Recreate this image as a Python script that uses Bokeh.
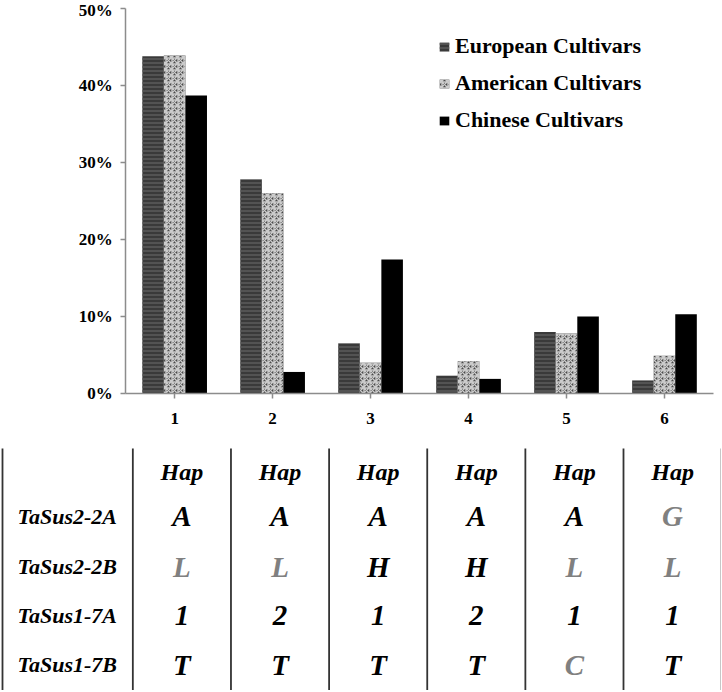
from bokeh.plotting import figure
from bokeh.models import (Range1d, NumeralTickFormatter, FixedTicker, LinearAxis,
                          Legend, LegendItem, ColumnDataSource)
from bokeh.transform import dodge
from bokeh.embed import file_html
from bokeh.resources import INLINE
from bokeh.core.properties import value

# ---------------- data ----------------
haplotypes = ["1", "2", "3", "4", "5", "6"]
european = [0.438, 0.278, 0.065, 0.023, 0.080, 0.017]
american = [0.439, 0.260, 0.040, 0.042, 0.078, 0.049]
chinese = [0.387, 0.028, 0.174, 0.019, 0.100, 0.103]
series_names = ["European Cultivars", "American Cultivars", "Chinese Cultivars"]
y_ticks = [0, 0.1, 0.2, 0.3, 0.4, 0.5]

header_labels = ["Hap", "Hap", "Hap", "Hap", "Hap", "Hap"]
genes = ["TaSus2-2A", "TaSus2-2B", "TaSus1-7A", "TaSus1-7B"]
alleles = [
    ["A", "A", "A", "A", "A", "G"],
    ["L", "L", "H", "H", "L", "L"],
    ["1", "2", "1", "2", "1", "1"],
    ["T", "T", "T", "T", "C", "T"],
]
alt_allele = [
    [0, 0, 0, 0, 0, 1],
    [1, 1, 0, 0, 1, 1],
    [0, 0, 0, 0, 0, 0],
    [0, 0, 0, 0, 1, 0],
]

SERIF = "Liberation Serif"
AXIS_GRAY = "#8c8c8c"
W, H = 721, 690

hap_x = list(range(1, len(haplotypes) + 1))

# one figure: chart on top (primary ranges), table below (extra y range in px)
p = figure(width=W, height=H,
           x_range=Range1d(-0.7777, 6.582),
           y_range=Range1d(-0.3857, 0.5104),
           x_axis_type=None, y_axis_type=None,
           output_backend="svg", toolbar_location=None,
           min_border_left=0, min_border_right=0, min_border_top=0, min_border_bottom=0)
p.outline_line_color = None
p.xgrid.visible = False
p.ygrid.visible = False
p.extra_y_ranges = {"table": Range1d(H, 0)}

# ---------------- bars ----------------
src = ColumnDataSource(dict(x=hap_x, eu=european, am=american, cn=chinese))
bw = 0.22
r_eu = p.vbar(x=dodge("x", -bw), top="eu", width=bw, source=src,
              fill_color="#3a3a3a", line_color=None,
              hatch_pattern="horizontal_line", hatch_color="#5a5a5a",
              hatch_scale=4, hatch_weight=1.5)
r_am = p.vbar(x=dodge("x", 0), top="am", width=bw, source=src,
              fill_color="#4a4a4a", line_color=None,
              hatch_pattern="criss_cross", hatch_color="#cccccc",
              hatch_scale=6, hatch_weight=1.4)
r_cn = p.vbar(x=dodge("x", bw), top="cn", width=bw, source=src,
              fill_color="#000000", line_color=None)

# ---------------- axes ----------------
xaxis = LinearAxis(fixed_location=0, bounds=(0.5, len(haplotypes) + 0.5),
                   ticker=FixedTicker(ticks=hap_x),
                   major_label_overrides={x: h for x, h in zip(hap_x, haplotypes)})
yaxis = LinearAxis(fixed_location=0.5, bounds=(y_ticks[0], y_ticks[-1]),
                   ticker=FixedTicker(ticks=y_ticks),
                   formatter=NumeralTickFormatter(format="0%"))
for ax in (xaxis, yaxis):
    ax.axis_line_color = AXIS_GRAY
    ax.axis_line_width = 1.5
    ax.major_tick_line_color = AXIS_GRAY
    ax.major_tick_line_width = 1.5
    ax.major_tick_in = 0
    ax.major_tick_out = 5
    ax.minor_tick_line_color = None
    ax.major_label_text_font = SERIF
    ax.major_label_text_font_style = "bold"
    ax.major_label_text_font_size = "17px"
    ax.major_label_text_color = "black"
yaxis.major_label_standoff = 8
xaxis.major_label_standoff = 14
p.add_layout(xaxis, "below")
p.add_layout(yaxis, "left")

# ---------------- legend ----------------
legend = Legend(items=[LegendItem(label=n, renderers=[r]) for n, r in
                       zip(series_names, [r_eu, r_am, r_cn])],
                location=(438, 557), orientation="vertical",
                glyph_width=12, glyph_height=11, label_standoff=5,
                spacing=11, padding=0, margin=0,
                border_line_color=None, background_fill_alpha=0,
                label_text_font=SERIF, label_text_font_style="bold",
                label_text_font_size="22px", label_text_color="black")
p.add_layout(legend)

# ---------------- table (y in page px via extra range) ----------------
col_shift = 0.074
col_pitch = 1.0017
cols = [col_shift + 1 + i * col_pitch for i in range(len(haplotypes))]
row_y = [515.5, 566, 614.5, 664]
header_y = 471
line_top, line_bottom = 448, 690
left_border_x = -0.7573
label_x = -0.604

line_x = [left_border_x] + [c - 0.5 * col_pitch for c in cols] + [cols[-1] + 0.5 * col_pitch]
p.segment(x0=line_x, y0=[line_top] * len(line_x), x1=line_x, y1=[line_bottom] * len(line_x),
          line_color="#333333", line_width=1.8, y_range_name="table")

p.text(x=cols, y=[header_y] * len(cols), text=header_labels,
       text_align="center", text_baseline="middle",
       text_font=value(SERIF), text_font_style="bold italic", text_font_size="24px",
       text_color="black", y_range_name="table")

p.text(x=[label_x] * len(genes), y=row_y, text=genes,
       text_align="left", text_baseline="middle",
       text_font=value(SERIF), text_font_style="bold italic", text_font_size="22px",
       text_color="black", y_range_name="table")

ax_, ay_, at_, ac_ = [], [], [], []
for ri, row in enumerate(alleles):
    for ci, a in enumerate(row):
        ax_.append(cols[ci])
        ay_.append(row_y[ri])
        at_.append(a)
        ac_.append("#808080" if alt_allele[ri][ci] else "black")
p.text(x=ax_, y=ay_, text=at_, text_color=ac_,
       text_align="center", text_baseline="middle",
       text_font=value(SERIF), text_font_style="bold italic", text_font_size="29px",
       y_range_name="table")

open("out.html", "w").write(file_html(p, INLINE))
